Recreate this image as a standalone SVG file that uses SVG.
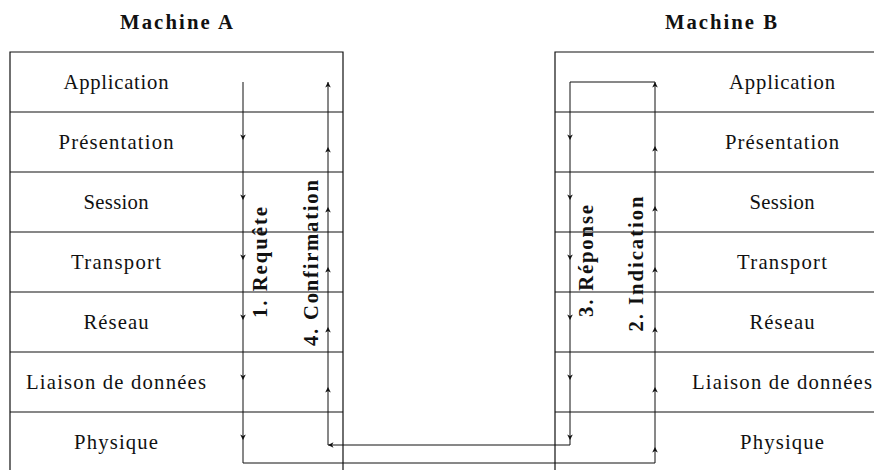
<svg xmlns="http://www.w3.org/2000/svg" width="874" height="470" viewBox="0 0 874 470">
<style>
.bx{stroke:#111;stroke-width:1.2;fill:none}
.ln{stroke:#111;stroke-width:1;fill:none}
</style>
<defs>
<marker id="ah" viewBox="-7 -4 8 8" markerWidth="8" markerHeight="8" refX="0" refY="0" orient="auto" markerUnits="userSpaceOnUse">
<path d="M0,0 L-5.5,-2.8 L-4,0 L-5.5,2.8 Z" fill="#111"/>
</marker>
</defs>
<rect width="874" height="470" fill="#fff"/>

<g id="machineA" font-family="'Liberation Serif', serif" font-size="20.7" text-anchor="middle" fill="#111">
<text x="176.5" y="29" font-weight="bold" textLength="113">Machine A</text>
<path class="bx" d="M10,470 V52 H343 V470"/>
<g id="a-application"><text x="116" y="89" textLength="105">Application</text></g>
<g id="a-presentation"><path class="bx" d="M10,112 H343"/><text x="116" y="149" textLength="115">Présentation</text></g>
<g id="a-session"><path class="bx" d="M10,172 H343"/><text x="116" y="209" textLength="65">Session</text></g>
<g id="a-transport"><path class="bx" d="M10,232 H343"/><text x="116" y="269" textLength="90">Transport</text></g>
<g id="a-reseau"><path class="bx" d="M10,292 H343"/><text x="116" y="329" textLength="65">Réseau</text></g>
<g id="a-liaison"><path class="bx" d="M10,352 H343"/><text x="116" y="389" textLength="180">Liaison de données</text></g>
<g id="a-physique"><path class="bx" d="M10,412 H343"/><text x="116" y="449" textLength="84">Physique</text></g>
</g>

<g id="machineB" font-family="'Liberation Serif', serif" font-size="20.7" text-anchor="middle" fill="#111">
<text x="721" y="29" font-weight="bold" textLength="112">Machine B</text>
<path class="bx" d="M555,470 V52 H874"/>
<g id="b-application"><text x="782" y="89" textLength="106">Application</text></g>
<g id="b-presentation"><path class="bx" d="M555,112 H874"/><text x="782" y="149" textLength="114">Présentation</text></g>
<g id="b-session"><path class="bx" d="M555,172 H874"/><text x="782" y="209" textLength="65">Session</text></g>
<g id="b-transport"><path class="bx" d="M555,232 H874"/><text x="782" y="269" textLength="90">Transport</text></g>
<g id="b-reseau"><path class="bx" d="M555,292 H874"/><text x="782" y="329" textLength="65">Réseau</text></g>
<g id="b-liaison"><path class="bx" d="M555,352 H874"/><text x="782" y="389" textLength="180">Liaison de données</text></g>
<g id="b-physique"><path class="bx" d="M555,412 H874"/><text x="782" y="449" textLength="84">Physique</text></g>
</g>

<g id="connectors" font-family="'Liberation Serif', serif" font-size="20.7" font-weight="bold" text-anchor="middle" fill="#111">
<g id="requete">
<path class="ln" d="M243,82 V140" marker-end="url(#ah)"/>
<path class="ln" d="M243,140 V200" marker-end="url(#ah)"/>
<path class="ln" d="M243,200 V260" marker-end="url(#ah)"/>
<path class="ln" d="M243,260 V320" marker-end="url(#ah)"/>
<path class="ln" d="M243,320 V380" marker-end="url(#ah)"/>
<path class="ln" d="M243,380 V440" marker-end="url(#ah)"/>
<path class="ln" d="M243,440 V463 H655"/>
<text transform="translate(267,262.5) rotate(-90)" textLength="111">1. Requête</text>
</g>
<g id="indication">
<path class="ln" d="M655,463 V447" marker-end="url(#ah)"/>
<path class="ln" d="M655,447 V387" marker-end="url(#ah)"/>
<path class="ln" d="M655,387 V327" marker-end="url(#ah)"/>
<path class="ln" d="M655,327 V267" marker-end="url(#ah)"/>
<path class="ln" d="M655,267 V206" marker-end="url(#ah)"/>
<path class="ln" d="M655,206 V146" marker-end="url(#ah)"/>
<path class="ln" d="M655,146 V82" marker-end="url(#ah)"/>
<text transform="translate(643,264) rotate(-90)" textLength="135">2. Indication</text>
</g>
<g id="reponse">
<path class="ln" d="M655,82 H570 V140" marker-end="url(#ah)"/>
<path class="ln" d="M570,140 V200" marker-end="url(#ah)"/>
<path class="ln" d="M570,200 V260" marker-end="url(#ah)"/>
<path class="ln" d="M570,260 V320" marker-end="url(#ah)"/>
<path class="ln" d="M570,320 V380" marker-end="url(#ah)"/>
<path class="ln" d="M570,380 V440" marker-end="url(#ah)"/>
<path class="ln" d="M570,440 V445 H328" marker-end="url(#ah)"/>
<text transform="translate(593,261) rotate(-90)" textLength="112">3. Réponse</text>
</g>
<g id="confirmation">
<path class="ln" d="M328,445 V387" marker-end="url(#ah)"/>
<path class="ln" d="M328,387 V327" marker-end="url(#ah)"/>
<path class="ln" d="M328,327 V267" marker-end="url(#ah)"/>
<path class="ln" d="M328,267 V207" marker-end="url(#ah)"/>
<path class="ln" d="M328,207 V147" marker-end="url(#ah)"/>
<path class="ln" d="M328,147 V82" marker-end="url(#ah)"/>
<text transform="translate(318,263) rotate(-90)" textLength="166">4. Confirmation</text>
</g>
</g>
</svg>
